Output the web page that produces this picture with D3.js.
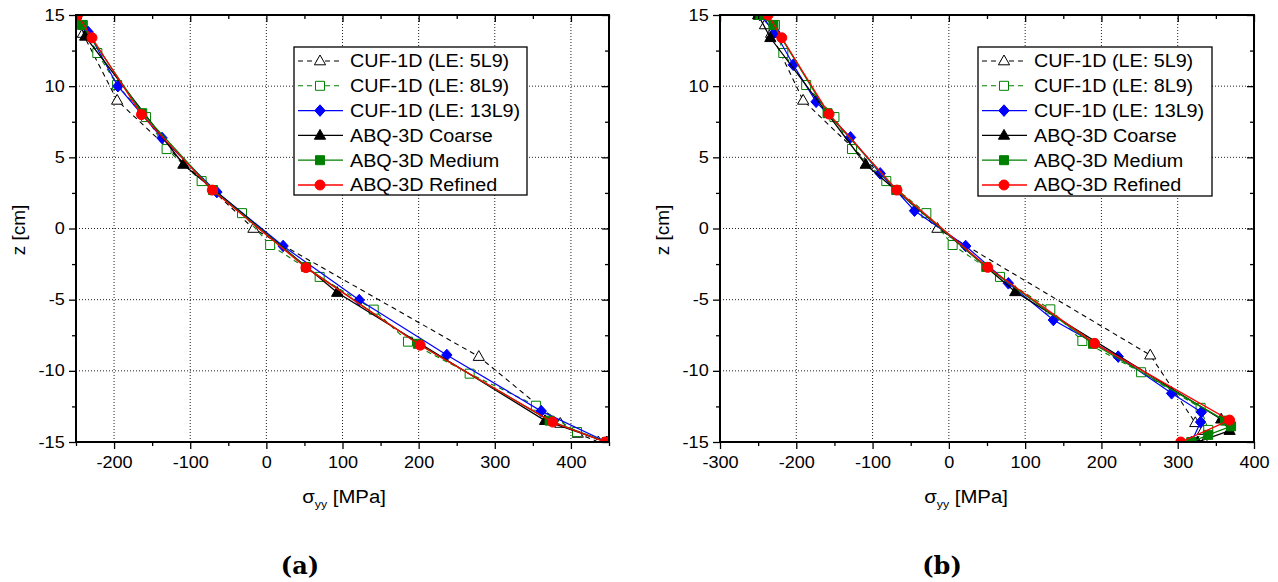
<!DOCTYPE html>
<html><head><meta charset="utf-8">
<script src="https://cdn.jsdelivr.net/npm/d3@7"></script>
<style>body{margin:0;background:#fff} svg{display:block}</style>
</head><body><svg id="c" width="1278" height="582"></svg>
<script>
// ---------- data ----------
const seriesNames = ["CUF-1D (LE: 5L9)", "CUF-1D (LE: 8L9)", "CUF-1D (LE: 13L9)", "ABQ-3D Coarse", "ABQ-3D Medium", "ABQ-3D Refined"];
const xTicksA = [-200, -100, 0, 100, 200, 300, 400];
const xTicksB = [-300, -200, -100, 0, 100, 200, 300, 400];
const yTicks = [-15, -10, -5, 0, 5, 10, 15];
const xLabel = "σ", xLabelSub = "yy", xLabelUnit = " [MPa]";
const yLabel = "z [cm]";
const panelLabels = ["(a)", "(b)"];

// panel (a): z [cm] and sigma_yy [MPa]
const a5L9_z = [15, 14.4, 13.7, 9.0, 0, -9.0, -13.7, -14.4, -15];
const a5L9_s = [-250, -246, -241, -196, -17, 279, 386, 409, 436];
const a8L9_z = [15, 14.3, 12.33, 10.08, 7.83, 5.58, 3.33, 1.08, -1.16, -3.4, -5.7, -7.95, -10.2, -12.45, -14.3, -15];
const a8L9_s = [-252, -241, -222, -196, -158, -131, -85, -32, 5, 70, 141, 186, 267, 354, 408, 448];
const a13L9_z = [15, 13.8, 10.0, 6.36, 2.56, -1.23, -5.03, -8.89, -12.83, -15];
const a13L9_s = [-250, -234, -195, -137, -65, 22, 122, 237, 361, 447];
const aCoarse_z = [15, 13.5, 4.5, -4.5, -13.5, -15];
const aCoarse_s = [-250, -238, -109, 93, 366, 447];
const aMedium_z = [15, 14.3, 8.1, 2.7, -2.7, -8.1, -13.5, -15];
const aMedium_s = [-251, -242, -163, -70, 52, 199, 372, 447];
const aRefined_z = [15, 13.4, 8.0, 2.7, -2.75, -8.2, -13.6, -15];
const aRefined_s = [-248, -229, -164, -71, 52, 202, 376, 445];

// panel (b)
const b5L9_z = [15, 14.3, 13.7, 9.0, 0, -8.9, -13.65, -14.2, -15];
const b5L9_s = [-249, -241, -233, -191, -15, 264, 323, 333, 335];
const b8L9_z = [15, 14.3, 12.33, 10.08, 7.83, 5.58, 3.33, 1.08, -1.16, -3.4, -5.68, -7.9, -10.1, -12.6, -14.15, -15];
const b8L9_s = [-250, -228, -217, -187, -150, -127, -82, -29.5, 5, 67, 133, 175, 252, 330, 340, 318];
const b13L9_z = [15, 13.8, 11.5, 8.9, 6.4, 3.87, 1.25, -1.23, -3.85, -6.43, -9.0, -11.58, -12.9, -13.6, -15];
const b13L9_s = [-248, -228, -204, -174, -129, -90, -45, 22, 78, 137, 222, 292, 331, 330, 318];
const bCoarse_z = [15, 13.4, 4.5, -4.45, -13.4, -14.2, -15];
const bCoarse_s = [-250, -234, -109, 87, 357, 368, 326];
const bMedium_z = [15, 14.3, 8.1, 2.7, -2.7, -8.1, -13.5, -13.9, -14.5, -15];
const bMedium_s = [-247, -230, -159, -69, 49, 189, 362, 370, 340, 318];
const bRefined_z = [15, 13.4, 8.04, 2.7, -2.73, -8.07, -13.46, -15];
const bRefined_s = [-237, -219, -157, -68, 51, 191, 368, 304];

// ---------- styles ----------
const GREEN = "#008000";
const styles = [
  {color: "#000", dash: "5,4", marker: "tri", fill: "#fff", w: 1.1},
  {color: GREEN, dash: "5,4", marker: "sq", fill: "#fff", w: 1.1},
  {color: "#0000ff", dash: null, marker: "dia", fill: "#0000ff", w: 1.2},
  {color: "#000", dash: null, marker: "tri", fill: "#000", w: 1.3},
  {color: GREEN, dash: null, marker: "sq", fill: GREEN, w: 1.3},
  {color: "#ff0000", dash: null, marker: "circ", fill: "#ff0000", w: 1.3}
];
const markerPath = {
  tri: "M0,-6L5.6,3.8L-5.6,3.8Z",
  sq: "M-4.5,-4.5H4.5V4.5H-4.5Z",
  dia: "M0,-5.8L5.2,0L0,5.8L-5.2,0Z",
  circ: "M5,0A5,5 0 1,1 -5,0A5,5 0 1,1 5,0Z"
};

const svg = d3.select("#c");
const SX = 1.13; // horizontal text stretch of the original figure
const fmt = d => String(d); // plain hyphen minus, as in the original

function zip(s, z) { return s.map((v, i) => ({s: v, z: z[i]})); }

function drawPanel(p, idx) {
  const x = d3.scaleLinear().domain(p.xDomain).range([p.left, p.right]);
  const y = d3.scaleLinear().domain([-15, 15]).range([p.bottom, p.top]);
  const g = svg.append("g");
  const clipId = "clip" + idx;
  svg.append("clipPath").attr("id", clipId).append("rect")
    .attr("x", p.left).attr("y", p.top).attr("width", p.right - p.left).attr("height", p.bottom - p.top);

  // grid
  const gx = p.xTicks.filter(t => t > p.xDomain[0] && t < p.xDomain[1]);
  const gy = yTicks.filter(t => t > -15 && t < 15);
  g.append("g").selectAll("line").data(gx).join("line")
    .attr("x1", d => x(d)).attr("x2", d => x(d)).attr("y1", p.top).attr("y2", p.bottom)
    .attr("stroke", "#222").attr("stroke-width", 1).attr("stroke-dasharray", "1,2");
  g.append("g").selectAll("line").data(gy).join("line")
    .attr("y1", d => y(d)).attr("y2", d => y(d)).attr("x1", p.left).attr("x2", p.right)
    .attr("stroke", "#222").attr("stroke-width", 1).attr("stroke-dasharray", "1,2");

  // series
  const data = g.append("g").attr("clip-path", `url(#${clipId})`);
  const line = d3.line().x(d => x(d.s)).y(d => y(d.z));
  p.series.forEach((ser, i) => {
    const st = styles[i];
    const pts = zip(ser.s, ser.z);
    data.append("path").attr("d", line(pts)).attr("fill", "none")
      .attr("stroke", st.color).attr("stroke-width", st.w)
      .attr("stroke-dasharray", st.dash);
    data.append("g").selectAll("path").data(pts).join("path")
      .attr("d", markerPath[st.marker])
      .attr("transform", d => `translate(${x(d.s)},${y(d.z)})`)
      .attr("fill", st.fill).attr("stroke", st.color).attr("stroke-width", 1);
  });

  // axes
  const xMinor = d3.range(p.xDomain[0], p.xDomain[1] + 1, 50).filter(t => !p.xTicks.includes(t));
  const yMinor = [-12.5, -7.5, -2.5, 2.5, 7.5, 12.5];
  const font = "'Liberation Sans', Arial, sans-serif";
  const ax = (gen, tr) => {
    const a = g.append("g").attr("transform", tr).call(gen);
    a.select(".domain").remove();
    a.selectAll("line").attr("stroke", "#000").attr("stroke-width", 1.3);
    a.attr("font-family", font);
    return a;
  };
  const bot = ax(d3.axisBottom(x).tickValues(p.xTicks).tickSize(7).tickPadding(8).tickFormat(fmt), `translate(0,${p.bottom})`);
  bot.selectAll("text").attr("font-size", 16).attr("fill", "#000")
    .attr("transform", `scale(${SX},1)`);
  ax(d3.axisBottom(x).tickValues(xMinor).tickSize(4).tickFormat(""), `translate(0,${p.bottom})`);
  ax(d3.axisTop(x).tickValues(p.xTicks).tickSize(-7).tickFormat(""), `translate(0,${p.top})`);
  ax(d3.axisTop(x).tickValues(xMinor).tickSize(-4).tickFormat(""), `translate(0,${p.top})`);
  const lft = ax(d3.axisLeft(y).tickValues(yTicks).tickSize(7).tickPadding(3).tickFormat(fmt), `translate(${p.left},0)`);
  lft.selectAll("text").attr("font-size", 16).attr("fill", "#000")
    .attr("transform", `scale(${SX},1)`);
  ax(d3.axisLeft(y).tickValues(yMinor).tickSize(4).tickFormat(""), `translate(${p.left},0)`);
  ax(d3.axisRight(y).tickValues(yTicks).tickSize(-7).tickFormat(""), `translate(${p.right},0)`);
  ax(d3.axisRight(y).tickValues(yMinor).tickSize(-4).tickFormat(""), `translate(${p.right},0)`);

  // frame
  g.append("rect").attr("x", p.left).attr("y", p.top).attr("width", p.right - p.left).attr("height", p.bottom - p.top)
    .attr("fill", "none").attr("stroke", "#000").attr("stroke-width", 2);

  // axis titles
  const xt = g.append("text").attr("font-family", font).attr("font-size", 18).attr("text-anchor", "middle")
    .attr("transform", `translate(${p.xLabelX},503) scale(${SX},1)`);
  xt.append("tspan").text(xLabel);
  xt.append("tspan").attr("font-size", 11).attr("dy", 5).text(xLabelSub);
  xt.append("tspan").attr("dy", -5).text(xLabelUnit);
  g.append("text").attr("font-family", font).attr("font-size", 19).attr("text-anchor", "middle")
    .attr("transform", `translate(${p.left - 51},230) rotate(-90)`).text(yLabel);

  // legend
  const L = p.legend;
  const lg = g.append("g");
  lg.append("rect").attr("x", L.x).attr("y", L.y).attr("width", L.w).attr("height", L.h)
    .attr("fill", "#fff").attr("stroke", "#000").attr("stroke-width", 1.3);
  seriesNames.forEach((name, i) => {
    const st = styles[i];
    const cy = L.y + 14 + i * 24.8;
    lg.append("line").attr("x1", L.x + 4).attr("x2", L.x + 49).attr("y1", cy).attr("y2", cy)
      .attr("stroke", st.color).attr("stroke-width", st.w).attr("stroke-dasharray", st.dash);
    lg.append("path").attr("d", markerPath[st.marker]).attr("transform", `translate(${L.x + 26},${cy})`)
      .attr("fill", st.fill).attr("stroke", st.color).attr("stroke-width", 1);
    lg.append("text").attr("font-family", font).attr("font-size", 17.5).attr("fill", "#000")
      .attr("transform", `translate(${L.x + 56},${cy + 6.3}) scale(${SX},1)`).text(name);
  });

  // panel label
  svg.append("text").attr("x", p.labelX).attr("y", 574).attr("text-anchor", "middle")
    .attr("font-family", "'DejaVu Serif', 'Liberation Serif', serif").attr("font-weight", "bold")
    .attr("font-size", 24).text(panelLabels[idx]);
}

drawPanel({
  left: 76, right: 609, top: 15, bottom: 442, xDomain: [-250, 450], xTicks: xTicksA,
  xLabelX: 344, labelX: 300,
  legend: {x: 294, y: 47, w: 233, h: 148},
  series: [
    {s: a5L9_s, z: a5L9_z}, {s: a8L9_s, z: a8L9_z}, {s: a13L9_s, z: a13L9_z},
    {s: aCoarse_s, z: aCoarse_z}, {s: aMedium_s, z: aMedium_z}, {s: aRefined_s, z: aRefined_z}
  ]
}, 0);
drawPanel({
  left: 720, right: 1254, top: 15, bottom: 442, xDomain: [-300, 400], xTicks: xTicksB,
  xLabelX: 966, labelX: 942,
  legend: {x: 978, y: 47, w: 234, h: 149},
  series: [
    {s: b5L9_s, z: b5L9_z}, {s: b8L9_s, z: b8L9_z}, {s: b13L9_s, z: b13L9_z},
    {s: bCoarse_s, z: bCoarse_z}, {s: bMedium_s, z: bMedium_z}, {s: bRefined_s, z: bRefined_z}
  ]
}, 1);
</script></body></html>
